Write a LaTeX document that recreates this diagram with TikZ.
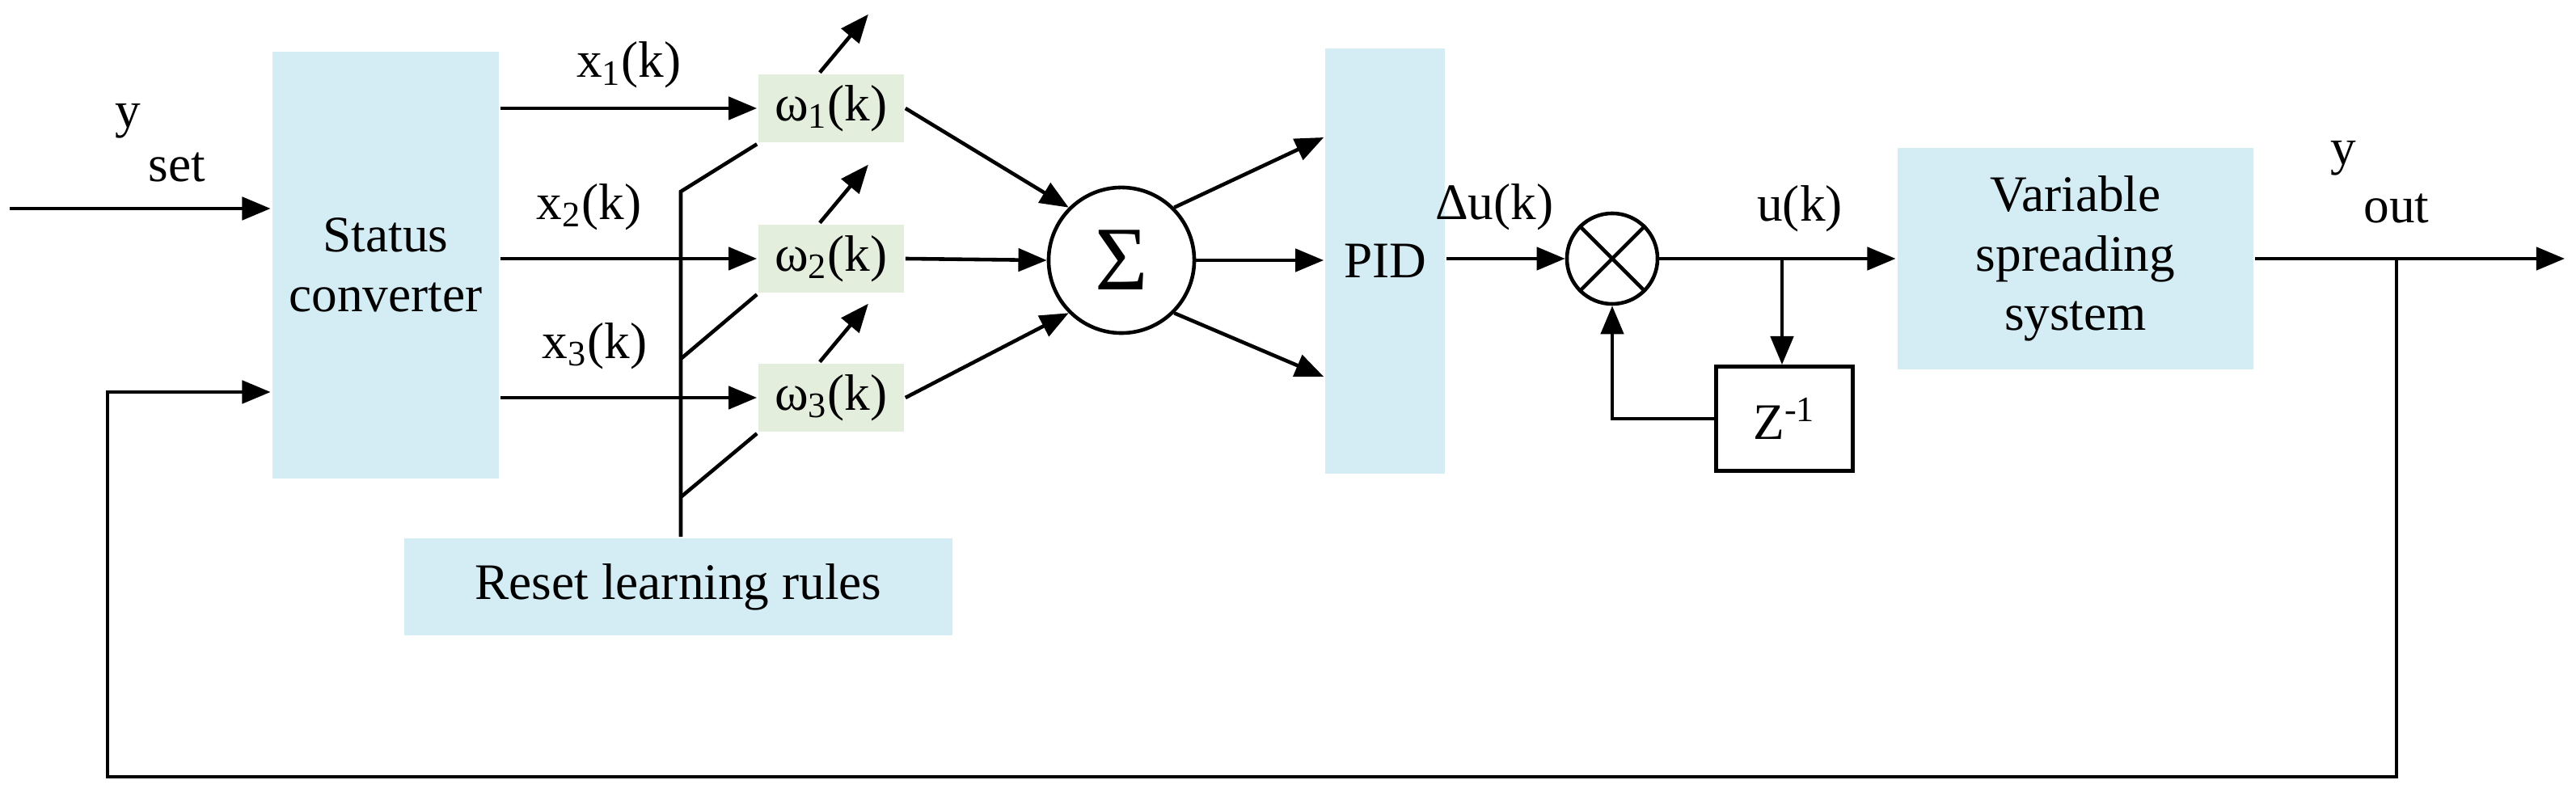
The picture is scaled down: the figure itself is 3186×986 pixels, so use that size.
\documentclass[tikz,border=0pt]{standalone}
\usepackage{fontspec}
\setmainfont{Liberation Serif}
\usetikzlibrary{arrows.meta}
\definecolor{boxblue}{RGB}{212,236,243}
\definecolor{boxgreen}{RGB}{228,238,220}
\tikzset{
  blk/.style={fill=boxblue,inner sep=0pt,align=center},
  wbox/.style={fill=boxgreen,minimum width=1.79cm,minimum height=0.84cm,inner sep=0pt},
  arr/.style={-{Triangle[length=10pt,width=8pt]}},
  lbl/.style={inner sep=0pt}
}
\begin{document}
\begin{tikzpicture}[x=0.01cm,y=-0.01cm,line width=1.3pt,font=\fontsize{18}{21}\selectfont]
\useasboundingbox (0,0) rectangle (3186,986);
\node[blk,minimum width=2.8cm,minimum height=5.28cm] (sc) at (477,328) {Status\\converter};
\node[blk,minimum width=6.78cm,minimum height=1.19cm] (rst) at (839,726) {Reset learning rules};
\node[wbox] (w1) at (1028,134) {ω\textsubscript{1}(k)};
\node[wbox] (w2) at (1028,320) {ω\textsubscript{2}(k)};
\node[wbox] (w3) at (1028,492) {ω\textsubscript{3}(k)};
\node[draw,circle,minimum size=1.8cm,inner sep=0pt] (sum) at (1387,322) {\fontsize{32}{32}\selectfont Σ};
\node[blk,minimum width=1.47cm,minimum height=5.26cm] (pid) at (1713,323) {PID};
\node[draw,circle,minimum size=1.12cm,inner sep=0pt] (mul) at (1994,320) {};
\draw (mul.north west) -- (mul.south east) (mul.north east) -- (mul.south west);
\node[draw,minimum width=1.69cm,minimum height=1.29cm,inner sep=0pt] (z) at (2207,518) {Z\textsuperscript{-1}};
\node[blk,minimum width=4.4cm,minimum height=2.74cm] (vss) at (2567,320) {Variable\\spreading\\system};
\coordinate (in) at (12,258);
\coordinate (br) at (2204,320);
\coordinate (ob) at (2964,320);
\coordinate (out) at (3172,320);
\coordinate (fb) at (133,485);
\coordinate (rv) at (842,237);
% inputs
\draw[arr] (in) -- (in -| sc.west);
\node[lbl] at (158,150) {y};
\node[lbl] at (219,207) {set};
\draw[arr] (sc.east |- w1) -- node[above=3pt] {x\textsubscript{1}(k)} (w1);
\draw[arr] (sc.east |- w2) -- node[above=6pt,xshift=-14pt] {x\textsubscript{2}(k)} (w2);
\draw[arr] (sc.east |- w3) -- node[above=6pt,xshift=-12pt] {x\textsubscript{3}(k)} (w3);
% learning rules
\draw (rst.north -| rv) -- (rv) -- (w1.south west);
\draw (842,444) -- (w2.south west);
\draw (842,615) -- (w3.south west);
\foreach \n in {w1,w2,w3}
  \draw[arr] ([xshift=-4pt]\n.north) -- ++(60,-72);
% summation
\draw[arr] (w1.east) -- (sum.135);
\draw[arr] (w2.east) -- (sum.west);
\draw[arr] (w3.east) -- (sum.225);
\draw[arr] (sum.45) -- (pid.west |- 0,170);
\draw[arr] (sum.east) -- (pid.west |- sum);
\draw[arr] (sum.-45) -- (pid.west |- 0,466);
% controller
\draw[arr] (pid.east |- mul) -- node[above=6pt,xshift=-4pt] {Δu(k)} (mul.west);
\draw[arr] (mul.east) -- (vss.west);
\node[lbl] at (2226,258) {u(k)};
\draw[arr] (br) -- (z.north -| br);
\draw[arr] (z.west) -| (mul.south);
% output
\draw[arr] (vss.east) -- (out);
\node[lbl] at (2898,196) {y};
\node[lbl] at (2964,258) {out};
\draw[arr] (ob) -- (2964,961) -| (fb) -- (fb -| sc.west);
\end{tikzpicture}
\end{document}
